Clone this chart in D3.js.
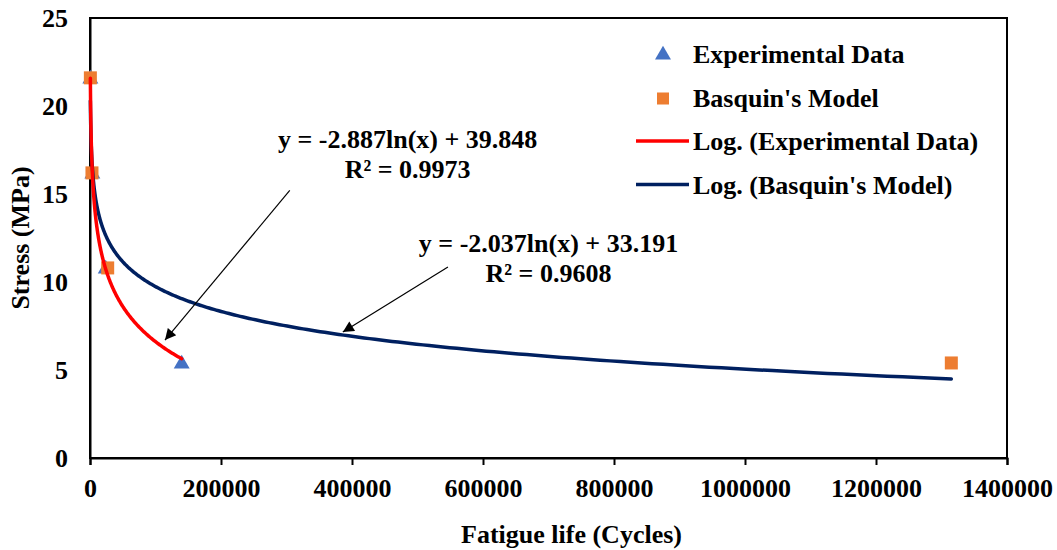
<!DOCTYPE html>
<html>
<head>
<meta charset="utf-8">
<script src="https://cdn.jsdelivr.net/npm/d3@7"></script>
<style>
  body { margin: 0; background: #fff; }
  svg text { font-family: "Liberation Serif", "Times New Roman", serif; font-weight: bold; fill: #000; }
</style>
</head>
<body>
<svg id="chart" width="1057" height="550"></svg>
<script>
// stress levels (MPa)
const stress = [21.6, 16.2, 10.8, 5.4];
// fatigue life
const expCycles = [560, 3600, 24000, 140000];
const basquinCycles = [560, 3000, 27000, 1315000];
// log trendlines shown in the chart
const expFit = { a: -2.887, b: 39.848, r2: "0.9973" };
const basFit = { a: -2.037, b: 33.191, r2: "0.9608" };
const xTicks = [0, 200000, 400000, 600000, 800000, 1000000, 1200000, 1400000];
const yTicks = [0, 5, 10, 15, 20, 25];
const legendLabels = ["Experimental Data", "Basquin's Model", "Log. (Experimental Data)", "Log. (Basquin's Model)"];

const fs = 26;
const margin = { top: 18, right: 50, bottom: 92, left: 90 };
const width = 1057 - margin.left - margin.right;
const height = 550 - margin.top - margin.bottom;

const svgEl = d3.select("#chart");
const svg = svgEl.append("g").attr("transform", `translate(${margin.left},${margin.top})`);

const x = d3.scaleLinear().domain([0, 1400000]).range([0, width]);
const y = d3.scaleLinear().domain([0, 25]).range([height, 0]);

// frame
svg.append("rect").attr("x", 0).attr("y", 0).attr("width", width).attr("height", height)
  .attr("fill", "none").attr("stroke", "#000").attr("stroke-width", 2);

// x axis
const xAxis = svg.append("g").attr("transform", `translate(0,${height})`)
  .call(d3.axisBottom(x).tickValues(xTicks).tickFormat(d3.format("d")).tickSizeOuter(0).tickSize(7).tickPadding(14));
xAxis.select(".domain").attr("stroke-width", 2);
xAxis.selectAll(".tick line").attr("stroke-width", 2);
xAxis.selectAll("text").attr("font-size", fs).attr("font-family", null).attr("fill", "#000");

// y axis
const yAxis = svg.append("g")
  .call(d3.axisLeft(y).tickValues(yTicks).tickSize(0).tickPadding(22));
yAxis.select(".domain").attr("stroke-width", 2);
yAxis.selectAll("text").attr("font-size", fs).attr("font-family", null).attr("fill", "#000");

// axis titles
svg.append("text").attr("x", width / 2 + 23).attr("y", height + 85)
  .attr("text-anchor", "middle").attr("font-size", fs).text("Fatigue life (Cycles)");
svg.append("text").attr("transform", `translate(${-61},${height / 2}) rotate(-90)`)
  .attr("text-anchor", "middle").attr("font-size", fs).text("Stress (MPa)");

// markers
const tri = d3.symbol().type(d3.symbolTriangle).size(110);
svg.selectAll(".exp").data(expCycles).enter().append("path")
  .attr("class", "exp")
  .attr("d", tri)
  .attr("transform", (d, i) => `translate(${x(d)},${y(stress[i]) + 1})`)
  .attr("fill", "#4472C4");

const sq = 13;
svg.selectAll(".bas").data(basquinCycles).enter().append("rect")
  .attr("class", "bas")
  .attr("x", d => x(d) - sq / 2)
  .attr("y", (d, i) => y(stress[i]) - sq / 2)
  .attr("width", sq).attr("height", sq)
  .attr("fill", "#ED7D31");

// trendlines
function trend(fit, xs) {
  const lo = d3.min(xs), hi = d3.max(xs);
  return d3.range(0, 401).map(k => {
    const t = lo * Math.pow(hi / lo, k / 400);
    return [t, fit.a * Math.log(t) + fit.b];
  });
}
const line = d3.line().x(d => x(d[0])).y(d => y(d[1]));
svg.append("path").datum(trend(basFit, basquinCycles)).attr("d", line)
  .attr("fill", "none").attr("stroke", "#002060").attr("stroke-width", 3.5).attr("stroke-linecap", "round");
svg.append("path").datum(trend(expFit, expCycles)).attr("d", line)
  .attr("fill", "none").attr("stroke", "#FF0000").attr("stroke-width", 3.5).attr("stroke-linecap", "round");

// annotations
svgEl.append("defs").append("marker").attr("id", "arr")
  .attr("viewBox", "0 0 10 10").attr("refX", 10).attr("refY", 5)
  .attr("markerWidth", 15).attr("markerHeight", 11).attr("markerUnits", "userSpaceOnUse")
  .attr("orient", "auto")
  .append("path").attr("d", "M0,0 L10,5 L0,10 Z").attr("fill", "#000");

const notes = [
  { fit: expFit, tx: 485000, ty: 17.6, from: [305000, 15.2], to: [114500, 6.7] },
  { fit: basFit, tx: 700000, ty: 11.7, from: [546500, 10.85], to: [386000, 7.16] }
];
notes.forEach(n => {
  svg.append("text").attr("x", x(n.tx)).attr("y", y(n.ty)).attr("text-anchor", "middle")
    .attr("font-size", fs).text(`y = ${n.fit.a}ln(x) + ${n.fit.b}`);
  svg.append("text").attr("x", x(n.tx)).attr("y", y(n.ty) + 30).attr("text-anchor", "middle")
    .attr("font-size", fs).text(`R² = ${n.fit.r2}`);
  svg.append("line")
    .attr("x1", x(n.from[0])).attr("y1", y(n.from[1]))
    .attr("x2", x(n.to[0])).attr("y2", y(n.to[1]))
    .attr("stroke", "#000").attr("stroke-width", 1.2).attr("marker-end", "url(#arr)");
});

// legend
const lg = svgEl.append("g").attr("transform", "translate(636,54)");
legendLabels.forEach((lab, i) => {
  const row = lg.append("g").attr("transform", `translate(0,${i * 43.5})`);
  if (i === 0) row.append("path").attr("d", tri).attr("transform", "translate(27,1)").attr("fill", "#4472C4");
  if (i === 1) row.append("rect").attr("x", 21).attr("y", -5).attr("width", sq - 1).attr("height", sq - 1).attr("fill", "#ED7D31");
  if (i >= 2) row.append("line").attr("x1", 0).attr("x2", 53).attr("y1", 0).attr("y2", 0)
    .attr("stroke", i === 2 ? "#FF0000" : "#002060").attr("stroke-width", 3.5);
  row.append("text").attr("x", 57).attr("y", 9).attr("font-size", fs).text(lab);
});
</script>
</body>
</html>
